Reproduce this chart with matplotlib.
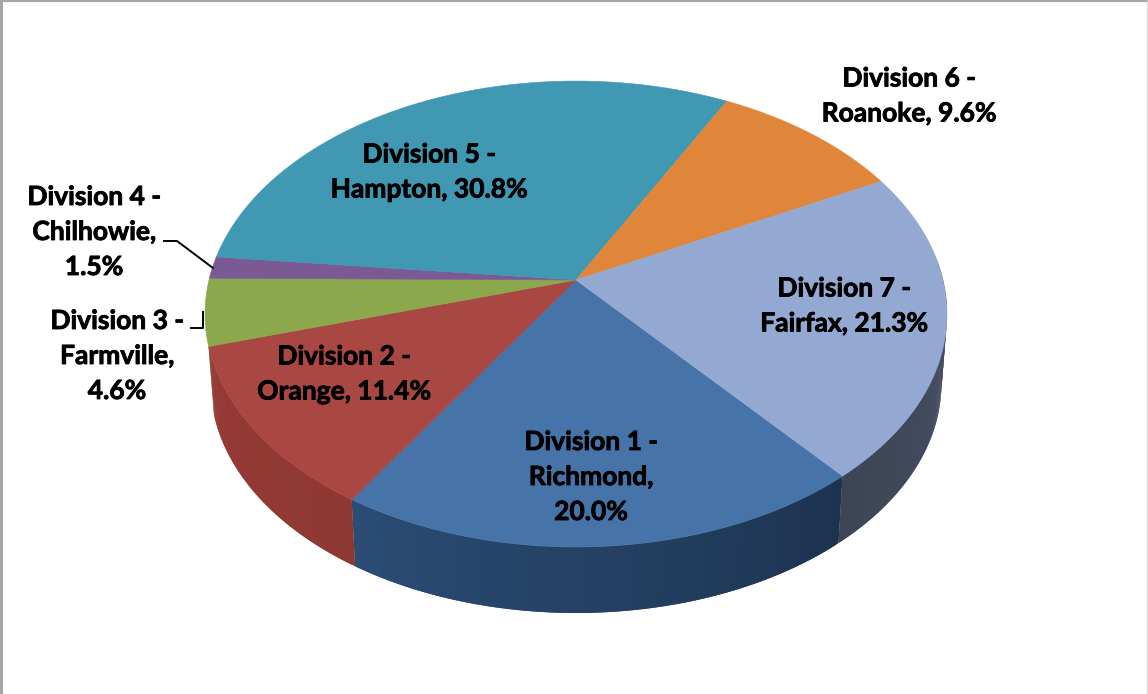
import numpy as np
import matplotlib
matplotlib.use("Agg")
import matplotlib.pyplot as plt
import matplotlib.patheffects as pe
from matplotlib.patches import Polygon
from matplotlib.colors import to_rgb

divisions = ["Division 1 -\nRichmond,", "Division 2 -\nOrange,", "Division 3 -\nFarmville,",
             "Division 4 -\nChilhowie,", "Division 5 -\nHampton,", "Division 6 -\nRoanoke,",
             "Division 7 -\nFairfax,"]
shares = [20.0, 11.4, 4.6, 1.5, 30.8, 9.6, 21.3]
top_colors = ["#4673A8", "#A94743", "#8BA84D", "#7A5A94", "#4198B3", "#E0863A", "#93A9D1"]
wall_start = ["#2B4C75", "#8E3833", "#6F873C", "#5C4472", "#2F7187", "#A8652B", "#3C4455"]
wall_end = ["#1D3450", "#973A36", "#6F873C", "#5C4472", "#2F7187", "#A8652B", "#4A5468"]
label_pos = [(591, 477), (344, 374), (117, 356), (94, 232), (429, 172), (909, 96), (844, 306)]
label_breaks = ["\n", " ", "\n", "\n", " ", " ", " "]

START = 139.8
APEX = (576.0, 280.0)
A, B, K = 367.0, 228.0, 0.146
SCALE, DROP = 0.985, 70.0


def rim(theta_deg):
    t = np.radians(np.asarray(theta_deg, dtype=float))
    u, v = np.sin(t), -np.cos(t)
    d = 1 - K * v
    return APEX[0] + A * u / d, APEX[1] + B * v / d


def rim_low(theta_deg):
    x, y = rim(theta_deg)
    return APEX[0] + (x - APEX[0]) * SCALE, APEX[1] + (y - APEX[1]) * SCALE + DROP


fig = plt.figure(figsize=(11.48, 6.94), dpi=100)
ax = fig.add_axes([0, 0, 1, 1])
ax.set_xlim(0, 1148)
ax.set_ylim(694, 0)
ax.axis("off")

# the labels add to 99.2 because of rounding, so angles are normalised as in a pie
edges = START + 360.0 * np.concatenate([[0], np.cumsum(shares)]) / sum(shares)

# walls of the near side
for i in range(len(shares)):
    a0, a1 = edges[i], edges[i + 1]
    vis0, vis1 = max(a0, 85.0), min(a1, 254.0)
    if a1 > 360 + 85:
        vis0, vis1 = max(a0, 360 + 85.0), a1
    if vis1 <= vis0:
        continue
    n = max(2, int((vis1 - vis0) * 2))
    th = np.linspace(vis0, vis1, n + 1)
    c0, c1 = np.array(to_rgb(wall_start[i])), np.array(to_rgb(wall_end[i]))
    for j in range(n):
        # gradient runs from the slice's left side to its right side on screen
        f = (th[j] - vis0) / (vis1 - vis0)
        col = c1 * (1 - f) + c0 * f if i in (0, 6) else c0 * (1 - f) + c1 * f
        # each strip overlaps the next one, which hides the seams
        seg = th[j:j + 3]
        xa, ya = rim(seg)
        xb, yb = rim_low(seg)
        ax.add_patch(Polygon(np.c_[np.r_[xa, xb[::-1]], np.r_[ya, yb[::-1]]],
                             closed=True, fc=col, ec="none", zorder=2))

# top face
for i in range(len(shares)):
    th = np.linspace(edges[i], edges[i + 1], 80)
    x, y = rim(th)
    ax.add_patch(Polygon(np.c_[np.r_[APEX[0], x], np.r_[APEX[1], y]], closed=True,
                         fc=top_colors[i], ec=top_colors[i], lw=0.4, zorder=3))

# labels
for name, val, pos, brk in zip(divisions, shares, label_pos, label_breaks):
    ax.text(pos[0], pos[1], f"{name}{brk}{val:.1f}%", ha="center", va="center",
            family="Lato", weight="bold", fontsize=19, color="black",
            linespacing=1.55, zorder=5,
            path_effects=[pe.withStroke(linewidth=0.6, foreground="black")])

# leader lines
ax.plot([164, 177, 213], [241, 241, 268], color="black", lw=1.4, zorder=4)
ax.plot([191, 203, 203], [328, 328, 312], color="black", lw=1.4, zorder=4)

# chart border
ax.plot([1, 1], [0, 694], color="#A6A6A6", lw=2.2, zorder=6)
ax.plot([0, 1148], [0.7, 0.7], color="#A6A6A6", lw=1.6, zorder=6)
ax.plot([1147.5, 1147.5], [0, 694], color="#D0D0D0", lw=1.2, zorder=6)

fig.savefig("out.png", dpi=100, facecolor="white")
